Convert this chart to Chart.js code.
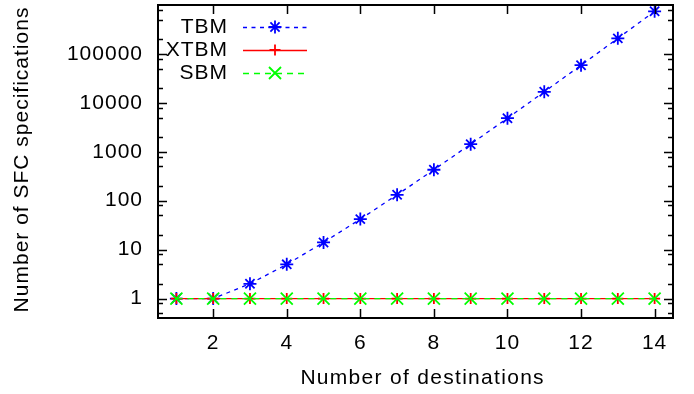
<!DOCTYPE html>
<html>
<head>
<meta charset="utf-8">
<script src="https://cdn.jsdelivr.net/npm/chart.js@4.4.1/dist/chart.umd.min.js"></script>
<style>
  html, body { margin: 0; padding: 0; background: #fff; }
  #wrap { width: 694px; height: 394px; }
</style>
</head>
<body>
<div id="wrap"><canvas id="chart" width="694" height="394"></canvas></div>
<script>
// Datos
const destinations = [1, 2, 3, 4, 5, 6, 7, 8, 9, 10, 11, 12, 13, 14];
const tbm  = [1, 1, 2, 5, 14, 42, 132, 429, 1430, 4862, 16796, 58786, 208012, 742900];
const xtbm = [1, 1, 1, 1, 1, 1, 1, 1, 1, 1, 1, 1, 1, 1];
const sbm  = [1, 1, 1, 1, 1, 1, 1, 1, 1, 1, 1, 1, 1, 1];

const xTicks = [2, 4, 6, 8, 10, 12, 14];
const yTicks = [1, 10, 100, 1000, 10000, 100000];
const yMinorTicks = [0.5, 0.8, 2, 5, 8, 20, 50, 80, 200, 500, 800, 2000, 5000, 8000,
  20000, 50000, 80000, 200000, 500000, 800000];

const xTitle = 'Number of destinations';
const yTitle = 'Number of SFC specifications';

const FONT = "'Liberation Sans', Arial, Helvetica, sans-serif";
const pts = arr => destinations.map((d, i) => ({ x: d, y: arr[i] }));

// Texto con espaciado entre letras, dibujado letra a letra
function spacedText(ctx, text, x, y, spacing, align) {
  ctx.letterSpacing = '0px';
  const widths = [...text].map(c => ctx.measureText(c).width);
  const total = widths.reduce((s, w) => s + w, 0) + spacing * (widths.length - 1);
  let cx = align === 'center' ? x - total / 2 : align === 'right' ? x - total : x;
  ctx.textAlign = 'left';
  [...text].forEach((c, i) => {
    ctx.fillText(c, cx, y);
    cx += widths[i] + spacing;
  });
}

// Marco estilo gnuplot: borde, ticks hacia dentro, títulos y leyenda
const gnuplotFrame = {
  id: 'gnuplotFrame',
  beforeDraw(chart) {
    chart.ctx.letterSpacing = '1px';
  },
  afterDraw(chart) {
    const { ctx, chartArea: a, scales: { x, y } } = chart;
    ctx.save();
    ctx.strokeStyle = '#000';
    ctx.lineWidth = 1.5;
    ctx.beginPath();
    xTicks.forEach(v => {
      const p = Math.round(x.getPixelForValue(v)) + 0.5;
      ctx.moveTo(p, a.bottom); ctx.lineTo(p, a.bottom - 9);
      ctx.moveTo(p, a.top); ctx.lineTo(p, a.top + 9);
    });
    const yTick = (v, len) => {
      const p = Math.round(y.getPixelForValue(v)) + 0.5;
      ctx.moveTo(a.left, p); ctx.lineTo(a.left + len, p);
      ctx.moveTo(a.right, p); ctx.lineTo(a.right - len, p);
    };
    yTicks.forEach(v => yTick(v, 9));
    yMinorTicks.forEach(v => yTick(v, 5));
    ctx.stroke();
    ctx.lineWidth = 2;
    ctx.strokeRect(a.left, a.top, a.right - a.left, a.bottom - a.top);

    // títulos de ejes
    ctx.fillStyle = '#000';
    ctx.font = `21px ${FONT}`;
    ctx.textBaseline = 'middle';
    spacedText(ctx, xTitle, 422, 378, 1.3, 'center');
    ctx.save();
    ctx.translate(22, 160);
    ctx.rotate(-Math.PI / 2);
    spacedText(ctx, yTitle, 0, 0, 1.0, 'center');
    ctx.restore();

    // leyenda
    const rows = [27, 50, 73];
    chart.data.datasets.forEach((ds, i) => {
      const yy = rows[i];
      ctx.fillStyle = '#000';
      spacedText(ctx, ds.label, 227, yy, 1, 'right');
      ctx.strokeStyle = ds.borderColor;
      ctx.lineWidth = ds.borderWidth;
      ctx.setLineDash(ds.borderDash || []);
      ctx.beginPath();
      ctx.moveTo(243, yy + 0.5); ctx.lineTo(307, yy + 0.5);
      ctx.stroke();
      ctx.setLineDash([]);
      ctx.lineWidth = ds.pointBorderWidth;
      ctx.fillStyle = ds.borderColor;
      Chart.helpers.drawPoint(ctx, {
        pointStyle: ds.pointStyle, radius: ds.pointRadius,
        borderWidth: ds.pointBorderWidth, rotation: 0
      }, 275, yy);
    });
    ctx.restore();
  }
};

const tickFont = { family: FONT, size: 21 };

new Chart(document.getElementById('chart'), {
  type: 'line',
  data: {
    datasets: [
      {
        label: 'TBM', data: pts(tbm),
        borderColor: '#0000ff', backgroundColor: '#0000ff',
        borderWidth: 1.3, borderDash: [4, 4.5],
        pointStyle: 'star', pointRadius: 6.5, pointBorderWidth: 1.8,
        order: 3
      },
      {
        label: 'XTBM', data: pts(xtbm),
        borderColor: '#ff0000', backgroundColor: '#ff0000',
        borderWidth: 1.3,
        pointStyle: 'cross', pointRadius: 5.5, pointBorderWidth: 1.8,
        order: 2
      },
      {
        label: 'SBM', data: pts(sbm),
        borderColor: '#00ff00', backgroundColor: '#00ff00',
        borderWidth: 1.3, borderDash: [6, 5],
        pointStyle: 'crossRot', pointRadius: 8.5, pointBorderWidth: 1.8,
        order: 1
      }
    ]
  },
  options: {
    responsive: false,
    animation: false,
    events: [],
    clip: false,
    layout: { autoPadding: false, padding: { top: 5, right: 21, bottom: 0, left: 0 } },
    plugins: {
      legend: { display: false },
      tooltip: { enabled: false }
    },
    scales: {
      x: {
        type: 'linear', min: 0.5, max: 14.5,
        afterBuildTicks: s => { s.ticks = xTicks.map(v => ({ value: v })); },
        afterFit: s => { s.height = 76; s.paddingLeft = 0; s.paddingRight = 0; },
        grid: { display: false, drawTicks: false },
        border: { display: false },
        ticks: {
          font: tickFont, color: '#000', padding: 13,
          maxRotation: 0, autoSkip: false, callback: v => String(v)
        }
      },
      y: {
        type: 'logarithmic', min: 0.4, max: 1000000,
        afterBuildTicks: s => { s.ticks = yTicks.map(v => ({ value: v })); },
        afterFit: s => { s.width = 158; s.paddingTop = 0; s.paddingBottom = 0; },
        grid: { display: false, drawTicks: false },
        border: { display: false },
        ticks: {
          font: tickFont, color: '#000', padding: 15,
          autoSkip: false, callback: v => String(v)
        }
      }
    }
  },
  plugins: [gnuplotFrame]
});
</script>
</body>
</html>
